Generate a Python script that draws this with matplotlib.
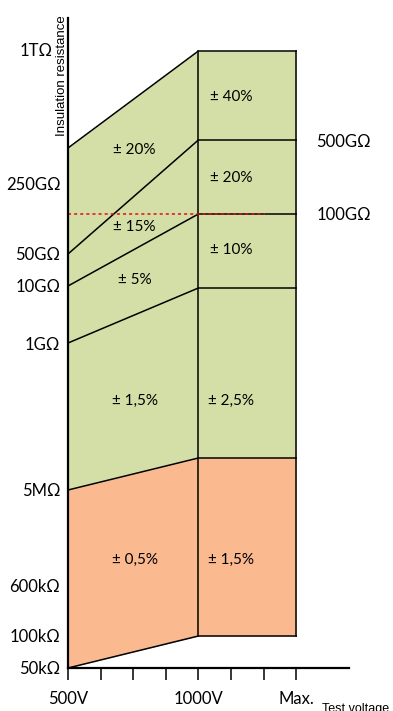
import matplotlib
matplotlib.use("Agg")
import matplotlib.pyplot as plt

# x: test voltage positions (tick index), y: schematic resistance scale
volt_ticks = [0, 1, 2, 3, 4, 5, 6, 7]
volt_labels = ['500V', '', '', '', '1000V', '', '', 'Max.']

res_pos = [618, 485, 414, 382, 325, 179, 83, 32, 0]
res_labels = ['1TΩ', '250GΩ', '50GΩ', '10GΩ', '1GΩ', '5MΩ', '600kΩ', '100kΩ', '50kΩ']
right_pos = [526, 453]
right_labels = ['500GΩ', '100GΩ']

# boundaries: value at 500V, value at 1000V (flat up to Max.)
bx = [0, 4, 7]
top = [520, 617]
b_500g = [414, 528]
b_100g = [382, 454]
b_10g = [325, 380]
b_green = [178, 210]
bottom = [0, 32]

ref_level = 454  # 100GΩ red dotted line
ref_end = 6.05

left_acc = ['± 20%', '± 15%', '± 5%', '± 1,5%', '± 0,5%']
left_acc_y = [518, 441, 388, 267, 108]
right_acc = ['± 40%', '± 20%', '± 10%', '± 2,5%', '± 1,5%']
right_acc_y = [571, 490, 418, 267, 108]

green = '#D3DFA6'
orange = '#FBB990'
font = 'Lato'

def poly(v):
    return [v[0], v[1], v[1]]

fig = plt.figure(figsize=(3.93, 7.11), dpi=100)
ax = fig.add_axes([68/393, 43/711, 281/393, 650/711])
ax.set_xlim(0, 8.62)
ax.set_ylim(0, 650)

ax.fill_between(bx, poly(b_green), poly(top), color=green, lw=0)
ax.fill_between(bx, poly(bottom), poly(b_green), color=orange, lw=0)

for b in [top, b_500g, b_100g, b_10g, b_green, bottom]:
    ax.plot(bx, poly(b), color='black', lw=1.1, solid_joinstyle='miter')
ax.plot([4, 4], [bottom[1], top[1]], color='black', lw=1.1)
ax.plot([7, 7], [bottom[1], top[1]], color='black', lw=1.1)

ax.plot([0, ref_end], [ref_level, ref_level], color='#E01010', lw=1.1,
        linestyle=(0, (2, 2)))

for t, y in zip(left_acc, left_acc_y):
    ax.text(2.04, y, t, ha='center', va='center', fontsize=11, family=font)
for t, y in zip(right_acc, right_acc_y):
    ax.text(5.0, y, t, ha='center', va='center', fontsize=11, family=font)

for t, y in zip(right_labels, right_pos):
    ax.text(7.62, y, t, ha='left', va='center', fontsize=12, family=font)

for s in ['top', 'right']:
    ax.spines[s].set_visible(False)
for s in ['left', 'bottom']:
    ax.spines[s].set_linewidth(1.6)

ax.set_yticks(res_pos, res_labels, fontsize=12, family=font)
ax.tick_params(axis='y', length=0, pad=5.5)
ax.yaxis.get_major_ticks()[0].set_pad(11)

ax.set_xticks(volt_ticks, volt_labels, fontsize=12, family=font)
ax.tick_params(axis='x', length=8.6, width=1.1, pad=8)

ax.text(-0.021, 1.005, 'Insulation resistance', rotation=90, ha='center',
        va='top', fontsize=9.5, family='Liberation Sans', transform=ax.transAxes)
ax.text(0.905, -0.054, 'Test voltage', ha='left', va='top', fontsize=9,
        family='Liberation Sans', transform=ax.transAxes)

fig.savefig('out.png', dpi=100)
